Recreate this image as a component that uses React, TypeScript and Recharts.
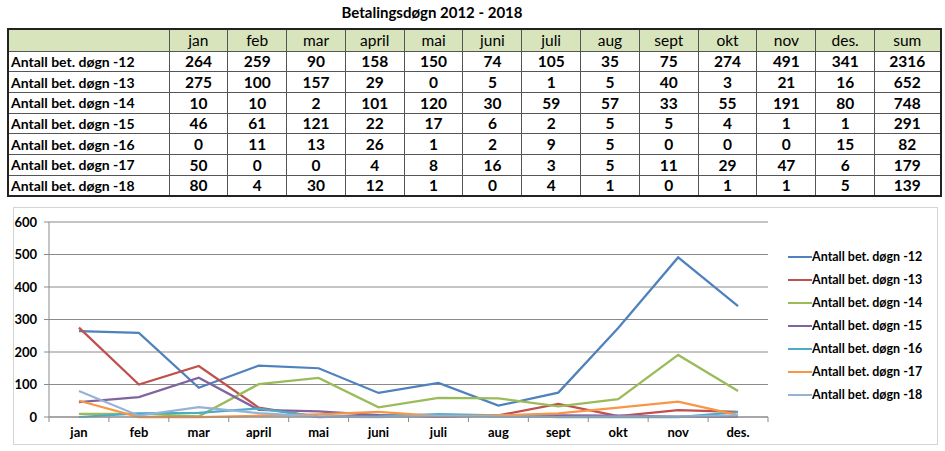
import { LineChart, Line, XAxis, YAxis, CartesianGrid, Legend } from "recharts";

const FONT = 'Lato, "Liberation Sans", Arial, sans-serif';

const months = ["jan", "feb", "mar", "april", "mai", "juni", "juli", "aug", "sept", "okt", "nov", "des."];
const seriesNames = [
  "Antall bet. døgn -12",
  "Antall bet. døgn -13",
  "Antall bet. døgn -14",
  "Antall bet. døgn -15",
  "Antall bet. døgn -16",
  "Antall bet. døgn -17",
  "Antall bet. døgn -18",
];
const d12 = [264, 259, 90, 158, 150, 74, 105, 35, 75, 274, 491, 341];
const d13 = [275, 100, 157, 29, 0, 5, 1, 5, 40, 3, 21, 16];
const d14 = [10, 10, 2, 101, 120, 30, 59, 57, 33, 55, 191, 80];
const d15 = [46, 61, 121, 22, 17, 6, 2, 5, 5, 4, 1, 1];
const d16 = [0, 11, 13, 26, 1, 2, 9, 5, 0, 0, 0, 15];
const d17 = [50, 0, 0, 4, 8, 16, 3, 5, 11, 29, 47, 6];
const d18 = [80, 4, 30, 12, 1, 0, 4, 1, 0, 1, 1, 5];
const sums = [2316, 652, 748, 291, 82, 179, 139];
const yTicks = [0, 100, 200, 300, 400, 500, 600];

const colors = ["#4f81bd", "#c0504d", "#9bbb59", "#8064a2", "#4bacc6", "#f79646", "#95b3d7"];
const allSeries = [d12, d13, d14, d15, d16, d17, d18];

const data = months.map((m, i) => {
  const row: Record<string, string | number> = { month: m };
  allSeries.forEach((s, k) => { row[seriesNames[k]] = s[i]; });
  return row;
});

const CHART_W = 923;
const CHART_H = 236;
const M = { top: 14, right: 169, left: 5, bottom: 0 };
const Y_W = 30;
const halfBand = (CHART_W - M.left - Y_W - M.right) / months.length / 2;

function MonthTick(props: any) {
  const { x, y, payload, index } = props;
  const axisY = y - 11;
  return (
    <g>
      <line x1={x + halfBand} x2={x + halfBand} y1={axisY} y2={axisY + 5} stroke="#8a8a8a" />
      {index === 0 && <line x1={x - halfBand} x2={x - halfBand} y1={axisY} y2={axisY + 5} stroke="#8a8a8a" />}
      <text x={x} y={y} dy="0.71em" textAnchor="middle" fontSize={13} fontWeight="bold" fill="#000" fontFamily={FONT}>
        {payload.value}
      </text>
    </g>
  );
}

function LegendBox({ payload }: any) {
  return (
    <div style={{ height: 0, overflow: "visible" }}>
      {(payload || []).map((p: any) => (
        <div key={p.value} style={{ display: "flex", alignItems: "center", height: 23, whiteSpace: "nowrap" }}>
          <span style={{ display: "inline-block", width: 24, height: 2, background: p.color }} />
          <span style={{ fontFamily: FONT, fontSize: 12.5, fontWeight: "bold", color: "#000" }}>{p.value}</span>
        </div>
      ))}
    </div>
  );
}

const cell: React.CSSProperties = {
  border: "1px solid #555",
  textAlign: "center",
  padding: 0,
  fontFamily: FONT,
  fontSize: 15.5,
  fontWeight: "bold",
};

export default function App() {
  return (
    <div style={{ position: "absolute", left: 0, top: 0, width: 945, height: 451, background: "#fff" }}>
      <div style={{ position: "absolute", left: 282, top: 3, width: 300, textAlign: "center",
                    fontFamily: FONT, fontSize: 15, fontWeight: "bold", whiteSpace: "nowrap" }}>
        Betalingsdøgn 2012 - 2018
      </div>

      <table style={{ position: "absolute", left: 7, top: 28, width: 933, borderCollapse: "collapse",
                      tableLayout: "fixed", border: "2px solid #222" }}>
        <colgroup>
          <col style={{ width: 161 }} />
          {months.map(m => <col key={m} style={{ width: 58.8 }} />)}
          <col style={{ width: 66 }} />
        </colgroup>
        <tbody>
          <tr style={{ height: 22, background: "#d8e4bc" }}>
            <td style={cell}></td>
            {months.map(m => <td key={m} style={{ ...cell, fontWeight: "normal" }}>{m}</td>)}
            <td style={{ ...cell, fontWeight: "normal" }}>sum</td>
          </tr>
          {allSeries.map((s, k) => (
            <tr key={k} style={{ height: 20.7 }}>
              <td style={{ ...cell, textAlign: "left", paddingLeft: 2, whiteSpace: "nowrap", fontSize: 14 }}>
                {seriesNames[k]}
              </td>
              {s.map((v, i) => <td key={i} style={cell}>{v}</td>)}
              <td style={cell}>{sums[k]}</td>
            </tr>
          ))}
        </tbody>
      </table>

      <div style={{ position: "absolute", left: 13, top: 207, border: "1px solid #d4d4d4" }}>
        <LineChart width={CHART_W} height={CHART_H} data={data} margin={M}>
          <CartesianGrid vertical={false} stroke="#8a8a8a" />
          <XAxis dataKey="month" height={27} tickSize={5} tickMargin={6} tickLine={false}
                 padding={{ left: halfBand, right: halfBand }}
                 axisLine={{ stroke: "#8a8a8a" }} tick={<MonthTick />} interval={0} />
          <YAxis width={Y_W} domain={[0, 600]} ticks={yTicks} tickSize={5} tickMargin={7}
                 axisLine={{ stroke: "#8a8a8a" }} tickLine={{ stroke: "#8a8a8a" }}
                 tick={{ fontSize: 13, fontWeight: "bold", fill: "#000", fontFamily: FONT }} />
          <Legend layout="vertical" align="center" verticalAlign="middle" content={<LegendBox />}
                  wrapperStyle={{ left: 774, top: 37, width: 145, height: 0 }} />
          {seriesNames.map((n, k) => (
            <Line key={n} type="linear" dataKey={n} name={n} stroke={colors[k]} strokeWidth={2.25}
                  dot={false} isAnimationActive={false} />
          ))}
        </LineChart>
      </div>
    </div>
  );
}
